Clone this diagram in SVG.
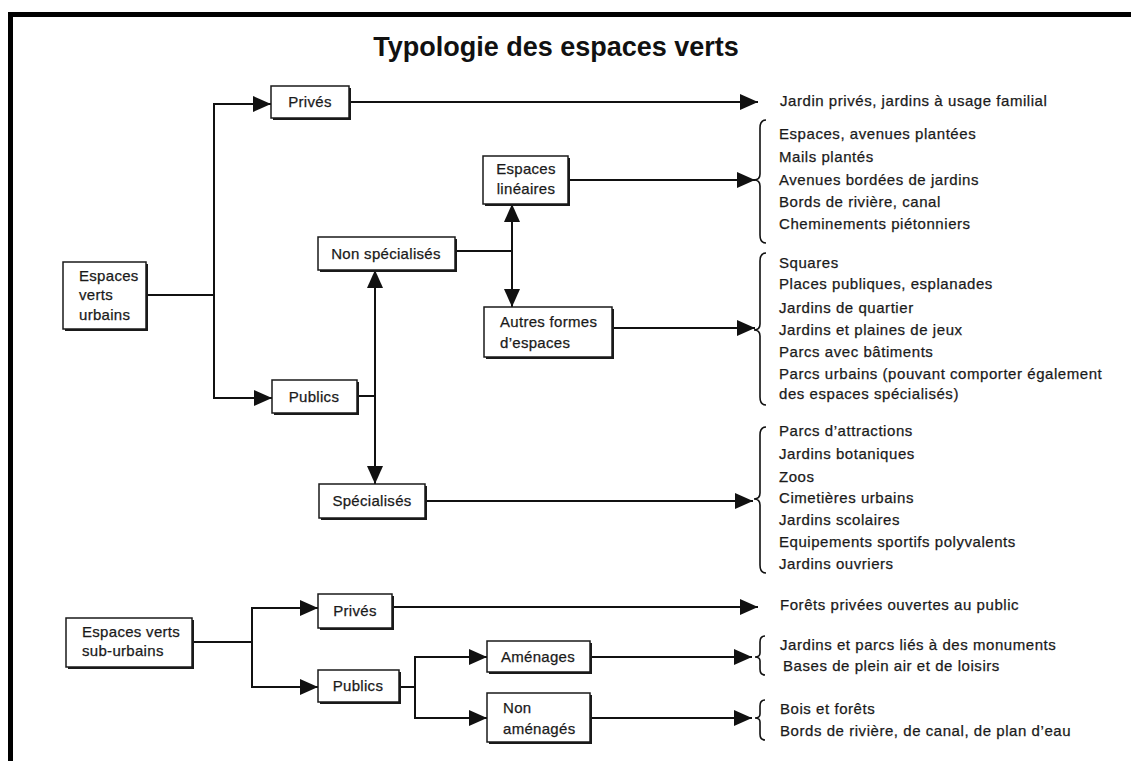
<svg xmlns="http://www.w3.org/2000/svg" width="1131" height="761" viewBox="0 0 1131 761">
<style>
  .bg{fill:#ffffff}
  .frame{stroke:#000;stroke-width:5;fill:none}
  .title{font-family:"Liberation Sans",Arial,sans-serif;font-weight:bold;font-size:27px;fill:#111}
  .t{font-family:"Liberation Sans",Arial,sans-serif;font-size:15px;fill:#1a1a1a;stroke:#1a1a1a;stroke-width:0.25;letter-spacing:0.3px}
  .l{letter-spacing:0.55px}
  .c{text-anchor:middle}
  .box{fill:#fff;stroke:#1a1a1a;stroke-width:1.5}
  .sh{fill:#1a1a1a}
  .ln{stroke:#111;stroke-width:2;fill:none}
  .br{stroke:#111;stroke-width:1.6;fill:none}
</style>
<defs>
  <marker id="ah" markerUnits="userSpaceOnUse" markerWidth="18" markerHeight="16" refX="18" refY="8" orient="auto">
    <path d="M0,0 L18,8 L0,16 z" fill="#111"/>
  </marker>
</defs>
<rect class="bg" x="0" y="0" width="1131" height="761"/>
<path class="frame" d="M10.5,761 V14.5 H1131"/>
<text class="title c" x="556" y="56">Typologie des espaces verts</text>

<g id="connectors">
  <!-- urban -->
  <path class="ln" d="M146,295 H214"/>
  <path class="ln" d="M214,398 V104"/>
  <path class="ln" marker-end="url(#ah)" d="M213,104 H271"/>
  <path class="ln" marker-end="url(#ah)" d="M213,398 H272"/>
  <path class="ln" marker-end="url(#ah)" d="M349,102 H758"/>
  <path class="ln" d="M357,396 H375"/>
  <path class="ln" marker-end="url(#ah)" d="M375,396 V270"/>
  <path class="ln" marker-end="url(#ah)" d="M375,396 V484"/>
  <path class="ln" d="M455,251 H512"/>
  <path class="ln" marker-end="url(#ah)" d="M512,251 V204"/>
  <path class="ln" marker-end="url(#ah)" d="M512,251 V307"/>
  <path class="ln" marker-end="url(#ah)" d="M568,180 H755"/>
  <path class="ln" marker-end="url(#ah)" d="M612,328 H755"/>
  <path class="ln" marker-end="url(#ah)" d="M425,501 H753"/>
  <!-- sub-urban -->
  <path class="ln" d="M192,642 H252"/>
  <path class="ln" d="M252,687 V608"/>
  <path class="ln" marker-end="url(#ah)" d="M251,608 H318"/>
  <path class="ln" marker-end="url(#ah)" d="M251,687 H318"/>
  <path class="ln" marker-end="url(#ah)" d="M392,607 H758"/>
  <path class="ln" d="M399,687 H415"/>
  <path class="ln" d="M415,718 V657"/>
  <path class="ln" marker-end="url(#ah)" d="M414,657 H487"/>
  <path class="ln" marker-end="url(#ah)" d="M414,718 H487"/>
  <path class="ln" marker-end="url(#ah)" d="M590,657 H752"/>
  <path class="ln" marker-end="url(#ah)" d="M590,718 H752"/>
  <!-- braces -->
  <path class="br" d="M766,120 Q760,120 760,128 L760,174 Q760,180 754,180 Q760,180 760,186 L760,235 Q760,243 766,243"/>
  <path class="br" d="M766,253 Q760,253 760,261 L760,324 Q760,330 754,330 Q760,330 760,336 L760,397 Q760,405 766,405"/>
  <path class="br" d="M766,427 Q760,427 760,435 L760,493 Q760,499 754,499 Q760,499 760,505 L760,565 Q760,573 766,573"/>
  <path class="br" d="M765,636 Q760,636 760,642 L760,653 Q760,657 755,657 Q760,657 760,661 L760,669 Q760,675 765,675"/>
  <path class="br" d="M765,700 Q760,700 760,706 L760,714 Q760,718 755,718 Q760,718 760,722 L760,734 Q760,740 765,740"/>
</g>

<g id="n-urbains">
  <rect class="sh" x="65" y="264" width="83" height="67"/>
  <rect class="box" x="63" y="262" width="83" height="67"/>
  <text class="t" x="79" y="281">Espaces</text>
  <text class="t" x="79" y="300">verts</text>
  <text class="t" x="79" y="320">urbains</text>
</g>
<g id="n-prives-u">
  <rect class="sh" x="273" y="88" width="78" height="32"/>
  <rect class="box" x="271" y="86" width="78" height="32"/>
  <text class="t c" x="310" y="107">Privés</text>
</g>
<g id="n-publics-u">
  <rect class="sh" x="274" y="382" width="85" height="33"/>
  <rect class="box" x="272" y="380" width="85" height="33"/>
  <text class="t c" x="314" y="402">Publics</text>
</g>
<g id="n-nonspec">
  <rect class="sh" x="320" y="239" width="137" height="33"/>
  <rect class="box" x="318" y="237" width="137" height="33"/>
  <text class="t c" x="386" y="259">Non spécialisés</text>
</g>
<g id="n-lineaires">
  <rect class="sh" x="485" y="158" width="85" height="48"/>
  <rect class="box" x="483" y="156" width="85" height="48"/>
  <text class="t c" x="526" y="174">Espaces</text>
  <text class="t c" x="526" y="194">linéaires</text>
</g>
<g id="n-autres">
  <rect class="sh" x="486" y="309" width="128" height="50"/>
  <rect class="box" x="484" y="307" width="128" height="50"/>
  <text class="t" x="500" y="327">Autres formes</text>
  <text class="t" x="500" y="348">d’espaces</text>
</g>
<g id="n-spec">
  <rect class="sh" x="321" y="486" width="106" height="34"/>
  <rect class="box" x="319" y="484" width="106" height="34"/>
  <text class="t c" x="372" y="506">Spécialisés</text>
</g>

<g id="n-suburbains">
  <rect class="sh" x="68" y="620" width="126" height="49"/>
  <rect class="box" x="66" y="618" width="126" height="49"/>
  <text class="t" x="82" y="637">Espaces verts</text>
  <text class="t" x="82" y="656">sub-urbains</text>
</g>
<g id="n-prives-s">
  <rect class="sh" x="320" y="596" width="74" height="34"/>
  <rect class="box" x="318" y="594" width="74" height="34"/>
  <text class="t c" x="355" y="616">Privés</text>
</g>
<g id="n-publics-s">
  <rect class="sh" x="320" y="672" width="81" height="32"/>
  <rect class="box" x="318" y="670" width="81" height="32"/>
  <text class="t c" x="358" y="691">Publics</text>
</g>
<g id="n-amenages">
  <rect class="sh" x="489" y="643" width="103" height="31"/>
  <rect class="box" x="487" y="641" width="103" height="31"/>
  <text class="t c" x="538" y="662">Aménages</text>
</g>
<g id="n-nonamenages">
  <rect class="sh" x="489" y="695" width="103" height="49"/>
  <rect class="box" x="487" y="693" width="103" height="49"/>
  <text class="t" x="503" y="713">Non</text>
  <text class="t" x="503" y="734">aménagés</text>
</g>

<g id="lists">
  <text class="t l" x="780" y="106">Jardin privés, jardins à usage familial</text>
  <text class="t l" x="779" y="139">Espaces, avenues plantées</text>
  <text class="t l" x="779" y="162">Mails plantés</text>
  <text class="t l" x="779" y="185">Avenues bordées de jardins</text>
  <text class="t l" x="779" y="207">Bords de rivière, canal</text>
  <text class="t l" x="779" y="229">Cheminements piétonniers</text>
  <text class="t l" x="779" y="268">Squares</text>
  <text class="t l" x="779" y="289">Places publiques, esplanades</text>
  <text class="t l" x="779" y="313">Jardins de quartier</text>
  <text class="t l" x="779" y="335">Jardins et plaines de jeux</text>
  <text class="t l" x="779" y="357">Parcs avec bâtiments</text>
  <text class="t l" x="779" y="379">Parcs urbains (pouvant comporter également</text>
  <text class="t l" x="779" y="399">des espaces spécialisés)</text>
  <text class="t l" x="779" y="436">Parcs d’attractions</text>
  <text class="t l" x="779" y="459">Jardins botaniques</text>
  <text class="t l" x="779" y="482">Zoos</text>
  <text class="t l" x="779" y="503">Cimetières urbains</text>
  <text class="t l" x="779" y="525">Jardins scolaires</text>
  <text class="t l" x="779" y="547">Equipements sportifs polyvalents</text>
  <text class="t l" x="779" y="569">Jardins ouvriers</text>
  <text class="t l" x="780" y="610">Forêts privées ouvertes au public</text>
  <text class="t l" x="780" y="650">Jardins et parcs liés à des monuments</text>
  <text class="t l" x="783" y="671">Bases de plein air et de loisirs</text>
  <text class="t l" x="780" y="714">Bois et forêts</text>
  <text class="t l" x="780" y="736">Bords de rivière, de canal, de plan d’eau</text>
</g>
</svg>
